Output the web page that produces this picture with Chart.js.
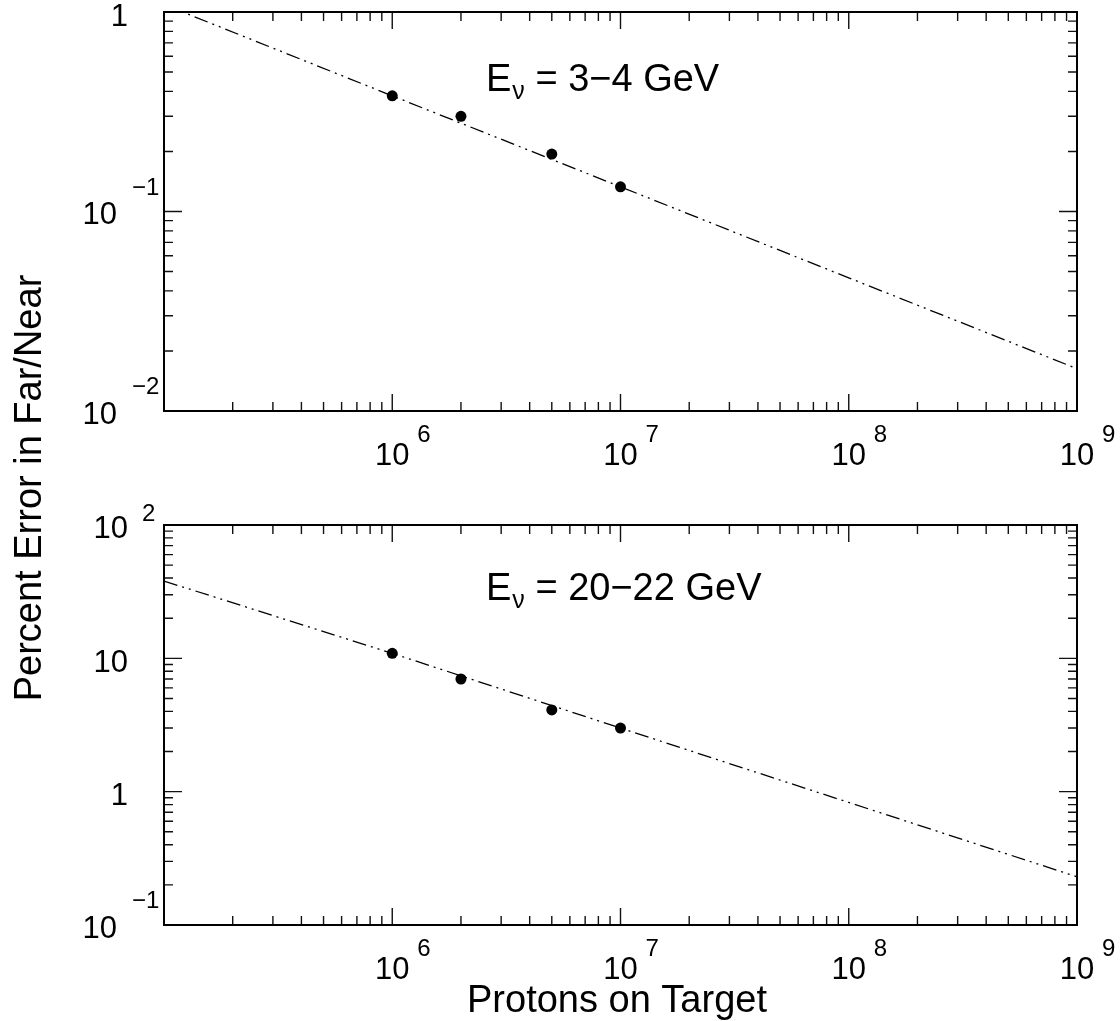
<!DOCTYPE html>
<html>
<head>
<meta charset="utf-8">
<script src="https://cdn.jsdelivr.net/npm/chart.js@4.4.0/dist/chart.umd.min.js"></script>
<style>
  html, body { margin: 0; padding: 0; background: #fff; }
  #wrap { position: relative; width: 1120px; height: 1021px; }
  #wrap canvas { position: absolute; left: 0; top: 0; }
</style>
</head>
<body>
<div id="wrap">
  <canvas id="topChart" width="1120" height="1021"></canvas>
  <canvas id="bottomChart" width="1120" height="1021"></canvas>
</div>
<script>
// protons on target for the measured points
const potValues = [1e6, 2e6, 5e6, 1e7];
// percent error in Far/Near (3-4 GeV bin, 20-22 GeV bin)
const errLowE = [0.38, 0.30, 0.194, 0.133];
const errHighE = [10.9, 7.0, 4.1, 3.0];

const fitPot = [1e5, 1e6, 1e7, 1e8, 1e9];
const fitLowE = [1.09, 0.38, 0.133, 0.0465, 0.0163];
const fitHighE = [38, 10.9, 3.0, 0.83, 0.23];

// tick labels
const xTickValues = [1e6, 1e7, 1e8, 1e9];
const xTickExps = ['6', '7', '8', '9'];
const topYTicks = [1, 0.1, 0.01];
const topYBase = ['1', '10', '10'];
const topYExps = ['', '\u22121', '\u22122'];
const bottomYTicks = [100, 10, 1, 0.1];
const bottomYBase = ['10', '10', '1', '10'];
const bottomYExps = ['2', '', '', '\u22121'];

const FONT = '"Liberation Sans", Arial, Helvetica, sans-serif';

function logTicks(min, max) {
    const out = [];
    for (let e = Math.floor(Math.log10(min)); e <= Math.ceil(Math.log10(max)); e++) {
        for (let m = 1; m <= 9; m++) {
            const v = m * Math.pow(10, e);
            if (v >= min * 0.999 && v <= max * 1.001) out.push({ v: v, major: m === 1 });
        }
    }
    return out;
}

function framePlugin(cfg) {
    return {
        id: 'pawFrame',
        afterDraw(chart) {
            const ctx = chart.ctx;
            const a = chart.chartArea;
            const xs = chart.scales.x;
            const ys = chart.scales.y;
            ctx.save();

            // inner ticks on all four sides
            ctx.strokeStyle = '#111';
            ctx.lineWidth = 1.4;
            ctx.beginPath();
            logTicks(xs.min, xs.max).forEach(t => {
                const px = xs.getPixelForValue(t.v);
                const len = t.major ? 17 : 9;
                ctx.moveTo(px, a.bottom); ctx.lineTo(px, a.bottom - len);
                ctx.moveTo(px, a.top); ctx.lineTo(px, a.top + len);
            });
            logTicks(ys.min, ys.max).forEach(t => {
                const py = ys.getPixelForValue(t.v);
                const len = t.major ? 18 : 9;
                ctx.moveTo(a.left, py); ctx.lineTo(a.left + len, py);
                ctx.moveTo(a.right, py); ctx.lineTo(a.right - len, py);
            });
            ctx.stroke();

            // frame
            ctx.strokeStyle = '#000';
            ctx.lineWidth = 2;
            ctx.strokeRect(a.left, a.top, a.right - a.left, a.bottom - a.top);

            ctx.fillStyle = '#000';
            ctx.textBaseline = 'alphabetic';

            // x tick labels: 10 centred on tick, exponent to the right
            xTickValues.forEach((v, i) => {
                const px = xs.getPixelForValue(v);
                ctx.font = '31px ' + FONT;
                ctx.textAlign = 'center';
                ctx.fillText('10', px, a.bottom + 54);
                ctx.font = '24px ' + FONT;
                ctx.textAlign = 'left';
                ctx.fillText(xTickExps[i], px + 25, a.bottom + 31);
            });

            // y tick labels
            cfg.yTicks.forEach((v, i) => {
                const py = ys.getPixelForValue(v);
                const exp = cfg.yExps[i];
                ctx.textAlign = 'right';
                ctx.font = '31px ' + FONT;
                if (!exp) {
                    ctx.fillText(cfg.yBase[i], 128, py + 13.5);
                } else if (exp.charAt(0) === '\u2212') {
                    ctx.fillText(cfg.yBase[i], 117, py + 12.5);
                    ctx.font = '24px ' + FONT;
                    ctx.textAlign = 'left';
                    ctx.fillText(exp, 132, py - 17);
                } else {
                    ctx.fillText(cfg.yBase[i], 128, py + 13);
                    ctx.font = '24px ' + FONT;
                    ctx.textAlign = 'left';
                    ctx.fillText(exp, 142, py - 4);
                }
            });

            // panel label  E_nu = ...
            let x = 486;
            const y = a.top + cfg.labelDy;
            ctx.textAlign = 'left';
            ctx.font = '38px ' + FONT;
            ctx.fillText('E', x, y);
            x += ctx.measureText('E').width + 1;
            ctx.font = '25px ' + FONT;
            ctx.fillText('\u03bd', x, y + 8);
            x += ctx.measureText('\u03bd').width;
            ctx.font = '38px ' + FONT;
            ctx.fillText(' = ' + cfg.label, x, y);

            if (cfg.axisTitles) {
                ctx.font = '38px ' + FONT;
                ctx.textAlign = 'center';
                ctx.fillText('Protons on Target', 617, 1012);
                ctx.translate(41, 488);
                ctx.rotate(-Math.PI / 2);
                ctx.fillText('Percent Error in Far/Near', 0, 0);
            }
            ctx.restore();
        }
    };
}

function makePanel(id, pts, fit, yMin, yMax, pad, cfg) {
    return new Chart(document.getElementById(id), {
        type: 'scatter',
        data: {
            datasets: [
                {
                    data: potValues.map((x, i) => ({ x: x, y: pts[i] })),
                    pointRadius: 5.5,
                    pointBackgroundColor: '#000',
                    pointBorderWidth: 0,
                    showLine: false
                },
                {
                    data: fitPot.map((x, i) => ({ x: x, y: fit[i] })),
                    showLine: true,
                    pointRadius: 0,
                    borderColor: '#000',
                    borderWidth: 1.3,
                    borderDash: [14, 5, 2, 5, 2, 5],
                    tension: 0
                }
            ]
        },
        options: {
            responsive: false,
            animation: false,
            devicePixelRatio: 1,
            events: [],
            layout: { padding: pad },
            plugins: { legend: { display: false }, tooltip: { enabled: false } },
            scales: {
                x: { type: 'logarithmic', min: 1e5, max: 1e9, display: false },
                y: { type: 'logarithmic', min: yMin, max: yMax, display: false }
            }
        },
        plugins: [framePlugin(cfg)]
    });
}

makePanel('topChart', errLowE, fitLowE, 0.01, 1,
    { left: 164, top: 12, right: 43, bottom: 610 },
    { yTicks: topYTicks, yBase: topYBase, yExps: topYExps, label: '3\u22124 GeV', labelDy: 79, axisTitles: true });

makePanel('bottomChart', errHighE, fitHighE, 0.1, 100,
    { left: 164, top: 525, right: 43, bottom: 96 },
    { yTicks: bottomYTicks, yBase: bottomYBase, yExps: bottomYExps, label: '20\u221222 GeV', labelDy: 75, axisTitles: false });
</script>
</body>
</html>
